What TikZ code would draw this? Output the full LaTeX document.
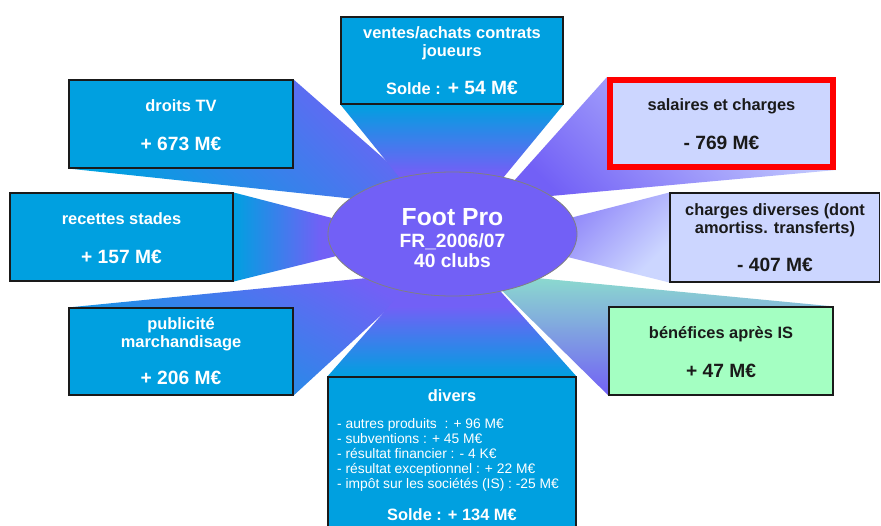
\documentclass[tikz,border=0pt]{standalone}
\usepackage{fontspec}
\setmainfont{Liberation Sans}
\usetikzlibrary{shapes.geometric,backgrounds}
\definecolor{boxblue}{RGB}{0,160,224}
\definecolor{core}{RGB}{114,96,246}
\definecolor{lav}{RGB}{204,214,255}
\definecolor{mint}{RGB}{164,255,194}
\definecolor{teal}{RGB}{140,222,205}
\definecolor{ink}{RGB}{26,26,26}
\definecolor{rim}{RGB}{128,128,128}
\begin{document}
\begin{tikzpicture}[x=1pt,y=-1pt,
  panel/.style={draw=ink, line width=1.1pt, fill=boxblue, inner sep=0pt, rectangle},
  lightpanel/.style={panel, fill=lav},
  greenpanel/.style={panel, fill=mint},
  redpanel/.style={panel, fill=lav, draw=red, line width=6pt},
  lbl/.style={anchor=base, inner sep=0pt, text=white, font=\bfseries\fontsize{16.4}{18}\selectfont},
  val/.style={anchor=base, inner sep=0pt, text=white, font=\bfseries\fontsize{19.2}{22}\selectfont},
  dlbl/.style={lbl, text=ink},
  dval/.style={val, text=ink},
  listline/.style={anchor=base west, inner sep=0pt, text=white, font=\fontsize{13.8}{15}\selectfont},
  ray/.style={draw=none}]
\useasboundingbox (0,0) rectangle (881,525);
\clip (0,0) rectangle (881,525);

% boxes
\node[panel, minimum width=222pt, minimum height=87pt] (vente) at (452,60.5) {};
\node[panel, minimum width=224pt, minimum height=88pt] (tv) at (181,124) {};
\node[panel, minimum width=223pt, minimum height=88pt] (stade) at (121.5,237) {};
\node[panel, minimum width=224pt, minimum height=87pt] (pub) at (181,351.5) {};
\node[panel, minimum width=248pt, minimum height=168pt] (divers) at (452,461) {};
\node[redpanel, minimum width=223pt, minimum height=87pt] (sal) at (721.5,123.5) {};
\node[lightpanel, minimum width=209.5pt, minimum height=89pt] (charges) at (774.75,237.5) {};
\node[greenpanel, minimum width=224pt, minimum height=88pt] (bene) at (721,351) {};

% apex points of the rays (hidden under the hub)
\coordinate (apTV) at (440,208);
\coordinate (apVe) at (451,241);
\coordinate (apSt) at (409,238);
\coordinate (apPu) at (428,272);
\coordinate (apDi) at (451,236);
\coordinate (apSa) at (496,201);
\coordinate (apCh) at (492,238);
\coordinate (apBe) at (484,273);

\begin{scope}[on background layer]
  \fill[white] (0,0) rectangle (881,525);
  \shade[ray, top color=core, bottom color=boxblue, shading angle=-45] (tv.south west) -- (tv.north east) -- (apTV) -- cycle;
  \shade[ray, top color=boxblue, bottom color=core, middle color=core] (vente.south west) -- (vente.south east) -- (apVe) -- cycle;
  \shade[ray, left color=boxblue, right color=core, middle color=core] (stade.north east) -- (stade.south east) -- (apSt) -- cycle;
  \shade[ray, top color=core, bottom color=boxblue, shading angle=-30] (pub.north west) -- (pub.south east) -- (apPu) -- cycle;
  \shade[ray, top color=core, bottom color=boxblue, middle color=core] (divers.north west) -- (divers.north east) -- (apDi) -- cycle;
  \shade[ray, top color=lav, bottom color=core, shading angle=-45] (sal.north west) -- (sal.south east) -- (apSa) -- cycle;
  \shade[ray, top color=core, bottom color=lav, shading angle=45] (charges.north west) -- (charges.south west) -- (apCh) -- cycle;
  \shade[ray, top color=teal, bottom color=core] (bene.north east) -- (bene.south west) -- (apBe) -- cycle;
\end{scope}

% hub
\node[ellipse, draw=rim, line width=0.8pt, fill=core, minimum width=249pt, minimum height=124pt, inner sep=0pt] (hub) at (452.5,234) {};
\node[anchor=base, inner sep=0pt, text=white, font=\bfseries\fontsize{24.7}{28}\selectfont] (hub1) at (452.5,225) {Foot Pro};
\node[val] (hub2) at (452.5,247) {FR\_2006/07};
\node[val] (hub3) at (452.5,267) {40 clubs};

% texts
\node[lbl] (vente1) at (452,38.5) {ventes/achats contrats};
\node[lbl] (vente2) at (452,56.5) {joueurs};
\node[val] (vente3) at (452,94) {{\fontsize{16.4}{18}\selectfont Solde :} + 54 M€};

\node[lbl] (tv1) at (181,111) {droits TV};
\node[val] (tv2) at (181,150) {+ 673 M€};

\node[lbl] (stade1) at (121.5,224) {recettes stades};
\node[val] (stade2) at (121.5,263) {+ 157 M€};

\node[lbl] (pub1) at (181,329) {publicité};
\node[lbl] (pub2) at (181,347) {marchandisage};
\node[val] (pub3) at (181,384) {+ 206 M€};

\node[lbl] (div1) at (452,401) {divers};
\node[listline] (div2) at (337,428) {- autres produits\ \ : + 96 M€};
\node[listline] (div3) at (337,443) {- subventions : + 45 M€};
\node[listline] (div4) at (337,458) {- résultat financier : - 4 K€};
\node[listline] (div5) at (337,473) {- résultat exceptionnel : + 22 M€};
\node[listline] (div6) at (337,488) {- impôt sur les sociétés (IS) : -25 M€};
\node[lbl] (div7) at (452,520) {Solde : + 134 M€};

\node[dlbl] (sal1) at (721.5,110.5) {salaires et charges};
\node[dval] (sal2) at (721.5,149.5) {- 769 M€};

\node[dlbl] (ch1) at (775,215) {charges diverses (dont};
\node[dlbl] (ch2) at (775,233) {amortiss. transferts)};
\node[dval] (ch3) at (775,271) {- 407 M€};

\node[dlbl] (be1) at (721,338) {bénéfices après IS};
\node[dval] (be2) at (721,377) {+ 47 M€};
\end{tikzpicture}
\end{document}
